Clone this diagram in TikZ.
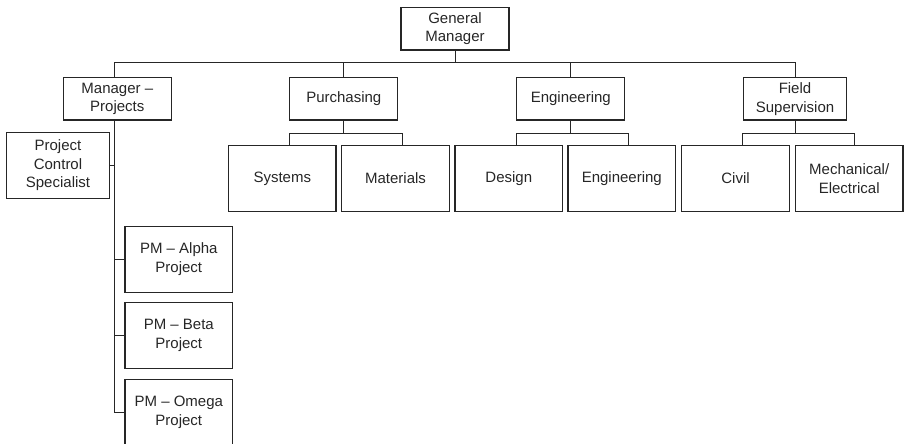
\documentclass[tikz,border=0pt]{standalone}
\usepackage{fontspec}
\setmainfont{Liberation Sans}
\usetikzlibrary{positioning}
\tikzset{
	box/.style={draw=black!85, line width=1.2pt, align=center, inner sep=0pt, text=black!85,
		font=\fontsize{15}{18.8}\selectfont},
	dept/.style={box, minimum width=108pt, minimum height=42.5pt},
	unit/.style={box, minimum width=107.5pt, minimum height=66.4pt},
	link/.style={draw=black!85, line width=1pt}
}

\begin{document}
\begin{tikzpicture}[x=1pt,y=-1pt]
	\useasboundingbox (0,0) rectangle (910,444);
	% top level
	\node[dept] (gm) at (455,28.7){General\\Manager};
	\node[dept] (mp) at (117.3,98.8){Manager --\\Projects};
	\node[dept] (pur) at (343.8,98.8){Purchasing};
	\node[dept] (eng) at (570.8,98.8){Engineering};
	\node[dept, minimum width=103.4pt] (fs) at (795,98.8){Field\\Supervision};
	% units
	\node[unit] (sys) at (282.3,178.5){Systems};
	\node[unit] (mat) at (395.5,178.5){Materials};
	\node[unit] (des) at (508.8,178.5){Design};
	\node[unit] (engu) at (621.8,178.5){Engineering};
	\node[unit] (civ) at (735.5,178.5){Civil};
	\node[unit] (mec) at (849.2,178.5){Mechanical/\\Electrical};
	% project side
	\node[unit, minimum width=102.6pt, minimum height=66pt] (pcs) at (58,165.3){Project\\Control\\Specialist};
	\node[unit, minimum height=65.7pt] (alpha) at (178.8,259.5){PM -- Alpha\\Project};
	\node[unit, minimum height=65.7pt] (beta) at (178.8,335.7){PM -- Beta\\Project};
	\node[unit, minimum height=65.7pt] (omega) at (178.8,412){PM -- Omega\\Project};
	% connectors
	\coordinate (bus) at (455,62.3);
	\coordinate (spine) at ([xshift=-3pt]mp.south);
	\draw[link] (gm.south) -- (bus);
	\draw[link] ([xshift=-3pt]mp.north) |- (bus) -| (fs.north);
	\draw[link] (pur.north) -- (pur.north |- bus);
	\draw[link] (eng.north) -- (eng.north |- bus);
	\draw[link] (spine) |- (omega.west);
	\draw[link] (pcs.east) -- (pcs.east -| spine);
	\draw[link] (alpha.west) -- (alpha.west -| spine);
	\draw[link] (beta.west) -- (beta.west -| spine);
	\draw[link] (pur.south) -- ++(0,12.7) -| ([xshift=7.5pt]sys.north);
	\draw[link] (pur.south) ++(0,12.7) -| ([xshift=7pt]mat.north);
	\draw[link] (eng.south) -- ++(0,12.7) -| ([xshift=8pt]des.north);
	\draw[link] (eng.south) ++(0,12.7) -| ([xshift=6.5pt]engu.north);
	\draw[link] (fs.south) -- ++(0,12.7) -| ([xshift=6.5pt]civ.north);
	\draw[link] (fs.south) ++(0,12.7) -| ([xshift=5pt]mec.north);
\end{tikzpicture}
\end{document}
